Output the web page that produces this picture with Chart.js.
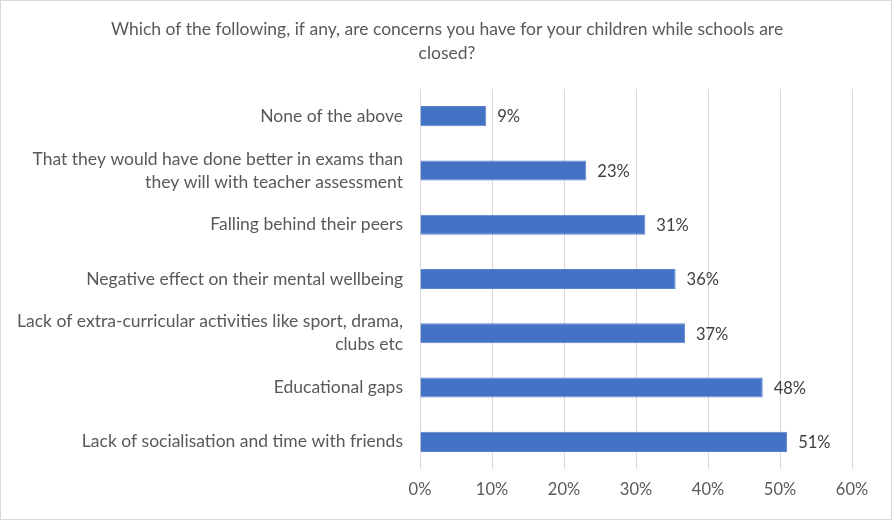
<!DOCTYPE html>
<html><head><meta charset="utf-8">
<script src="https://cdn.jsdelivr.net/npm/chart.js@4"></script>
<style>
html,body{margin:0;padding:0;background:#fff;}
#wrap{position:relative;width:892px;height:520px;box-sizing:border-box;border:1px solid #d9d9d9;}
canvas{display:block;}
</style></head>
<body><div id="wrap"><canvas id="c" width="890" height="518"></canvas></div>
<script>
const categories = [
  "None of the above",
  ["That they would have done better in exams than", "they will with teacher assessment"],
  "Falling behind their peers",
  "Negative effect on their mental wellbeing",
  ["Lack of extra-curricular activities like sport, drama,", "clubs etc"],
  "Educational gaps",
  "Lack of socialisation and time with friends"
];
const values = [9.2, 23.1, 31.3, 35.5, 36.8, 47.6, 51.0];
const titleLines = ["Which of the following, if any, are concerns you have for your children while schools are", "closed?"];
const xTicks = [0, 10, 20, 30, 40, 50, 60];

const FONT = "Lato, 'Open Sans', sans-serif";
const labelPlugin = {
  id: 'barLabels',
  afterDatasetsDraw(chart) {
    const ctx = chart.ctx;
    const meta = chart.getDatasetMeta(0);
    ctx.save();
    ctx.font = "16.5px " + FONT;
    ctx.fillStyle = "#404040";
    ctx.textAlign = "left";
    ctx.textBaseline = "middle";
    meta.data.forEach((bar, i) => {
      ctx.fillText(Math.round(values[i]) + "%", bar.x + 11, bar.y + 1);
    });
    ctx.restore();
  }
};
const titlePlugin = {
  id: 'centerTitle',
  afterDraw(chart) {
    const ctx = chart.ctx;
    ctx.save();
    ctx.font = "17.5px " + FONT;
    ctx.fillStyle = "#595959";
    ctx.textAlign = "center";
    ctx.textBaseline = "middle";
    titleLines.forEach((t, i) => ctx.fillText(t, 446, 28 + i * 24));
    ctx.restore();
  }
};

new Chart(document.getElementById('c'), {
  type: 'bar',
  data: {
    labels: categories,
    datasets: [{
      data: values,
      backgroundColor: '#4472c4',
      borderColor: '#5b83cc',
      borderWidth: 1,
      barPercentage: 0.37,
      categoryPercentage: 1.0
    }]
  },
  options: {
    indexAxis: 'y',
    responsive: false,
    animation: false,
    layout: { padding: { left: 0, right: 39, top: 88, bottom: 0 } },
    plugins: {
      legend: { display: false },
      tooltip: { enabled: false },
      title: { display: false }
    },
    scales: {
      x: {
        min: 0, max: 60,
        afterBuildTicks(s) { s.ticks = xTicks.map(v => ({ value: v })); },
        afterFit(s) { s.height = 50; },
        grid: { color: '#d9d9d9', lineWidth: 1, drawTicks: false },
        border: { display: false },
        ticks: {
          color: '#595959', padding: 11,
          font: { family: FONT, size: 16.5 },
          callback: v => v + '%'
        }
      },
      y: {
        afterFit(s) { s.width = 419; },
        grid: { display: false, drawTicks: false },
        border: { display: false },
        ticks: {
          color: '#595959', padding: 17,
          font: { family: FONT, size: 17.5, lineHeight: 1.32 }
        }
      }
    }
  },
  plugins: [labelPlugin, titlePlugin]
});
</script></body></html>
